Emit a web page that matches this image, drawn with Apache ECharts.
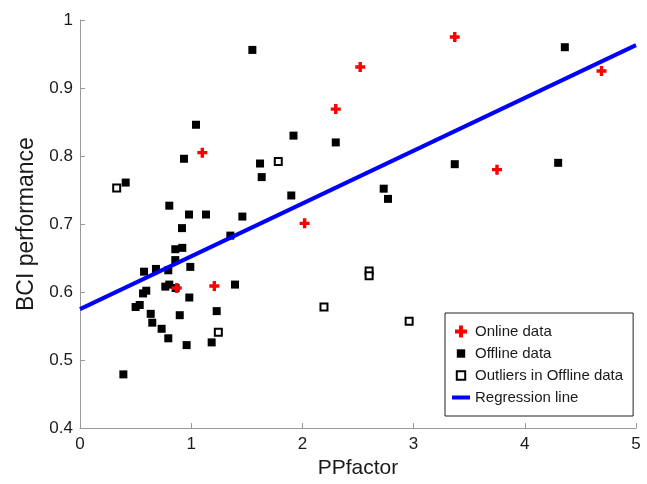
<!DOCTYPE html>
<html>
<head>
<meta charset="utf-8">
<script src="https://cdn.jsdelivr.net/npm/echarts@6/dist/echarts.min.js"></script>
<style>html,body{margin:0;padding:0;background:#fff;}#c{width:647px;height:484px;}</style>
</head>
<body>
<div id="c"></div>
<script>
const onlineData = [[0.87,0.606],[1.10,0.805],[1.208,0.609],[2.02,0.701],[2.30,0.869],[2.52,0.931],[3.37,0.975],[3.75,0.780],[4.69,0.925]];
const offlineData = [[0.39,0.479],[0.411,0.761],[0.50,0.578],[0.537,0.581],[0.567,0.598],[0.596,0.602],[0.576,0.630],[0.636,0.568],[0.65,0.555],[0.683,0.634],[0.734,0.546],[0.767,0.608],[0.794,0.532],[0.794,0.632],[0.803,0.611],[0.803,0.727],[0.86,0.606],[0.857,0.647],[0.857,0.663],[0.897,0.566],[0.92,0.665],[0.917,0.694],[0.935,0.796],[0.959,0.522],[0.983,0.592],[0.992,0.637],[0.98,0.714],[1.043,0.846],[1.133,0.714],[1.184,0.526],[1.229,0.572],[1.352,0.683],[1.394,0.611],[1.46,0.711],[1.55,0.956],[1.619,0.789],[1.634,0.769],[1.90,0.742],[1.92,0.830],[2.30,0.820],[2.731,0.752],[2.77,0.737],[3.37,0.788],[4.30,0.790],[4.36,0.960]];
const outlierData = [[0.33,0.753],[1.244,0.541],[1.783,0.792],[2.194,0.578],[2.60,0.631],[2.60,0.624],[2.96,0.557]];
const regressionData = [[0,0.575],[5,0.963]];
const seriesNames = ['Online data','Offline data','Outliers in Offline data','Regression line'];
const xTitle = 'PPfactor';
const yTitle = 'BCI performance';

const FONT = '"Liberation Sans", Arial, sans-serif';
const plusPath = 'path://M4,0H8V4H12V8H8V12H4V8H0V4H4Z';
const smallPlus = 'path://M3.3,0H6.7V3.3H10V6.7H6.7V10H3.3V6.7H0V3.3H3.3Z';
const legendSquare = 'path://M0,0L0,0M12,12L12,12M1.8,1.8H10.2V10.2H1.8Z';
const legendLine = 'path://M0,0H18V4H0Z';

const chart = echarts.init(document.getElementById('c'));
chart.setOption({
  animation: false,
  backgroundColor: '#fff',
  grid: {left: 80, right: 11, top: 20, bottom: 51, containLabel: false},
  xAxis: {
    type: 'value', min: 0, max: 5, interval: 1,
    name: xTitle, nameLocation: 'middle', nameGap: 26,
    nameTextStyle: {fontFamily: FONT, fontSize: 21, color: '#1a1a1a'},
    axisLine: {show: true, lineStyle: {color: '#999', width: 1}},
    axisTick: {show: true, inside: true, length: 5, lineStyle: {color: '#999'}},
    axisLabel: {fontFamily: FONT, fontSize: 17, color: '#1a1a1a', margin: 8},
    splitLine: {show: false}
  },
  yAxis: {
    type: 'value', min: 0.4, max: 1, interval: 0.1,
    name: yTitle, nameLocation: 'middle', nameGap: 36, nameRotate: 90,
    nameTextStyle: {fontFamily: FONT, fontSize: 23, color: '#1a1a1a'},
    axisLine: {show: true, lineStyle: {color: '#999', width: 1}},
    axisTick: {show: true, inside: true, length: 5, lineStyle: {color: '#999'}},
    axisLabel: {fontFamily: FONT, fontSize: 17, color: '#1a1a1a', margin: 7,
      formatter: v => String(Math.round(v * 10) / 10)},
    splitLine: {show: false}
  },
  legend: {
    orient: 'vertical', left: 445, top: 313,
    borderColor: '#222', borderWidth: 1, backgroundColor: '#fff',
    padding: [10, 10, 10, 7],
    itemWidth: 18, itemHeight: 12, itemGap: 5,
    textStyle: {fontFamily: FONT, fontSize: 15, color: '#1a1a1a', lineHeight: 17},
    data: [
      {name: seriesNames[0], icon: plusPath, itemStyle: {color: '#ff0000', borderWidth: 0}},
      {name: seriesNames[1], icon: legendSquare, itemStyle: {color: '#000', borderWidth: 0}},
      {name: seriesNames[2], icon: legendSquare, itemStyle: {color: '#fff', borderColor: '#000', borderWidth: 2}},
      {name: seriesNames[3], icon: legendLine, itemStyle: {color: '#0000ff', borderWidth: 0}}
    ]
  },
  series: [
    {name: seriesNames[1], type: 'scatter', data: offlineData, symbol: 'rect', symbolSize: 8,
      itemStyle: {color: '#000', opacity: 1}, z: 2},
    {name: seriesNames[2], type: 'scatter', data: outlierData, symbol: 'rect', symbolSize: 7,
      itemStyle: {color: '#fff', borderColor: '#000', borderWidth: 2, opacity: 1}, z: 2},
    {name: seriesNames[0], type: 'scatter', data: onlineData, symbol: smallPlus, symbolSize: 10,
      itemStyle: {color: '#ff0000', opacity: 1}, z: 3},
    {name: seriesNames[3], type: 'line', data: regressionData, symbol: 'none',
      lineStyle: {color: '#0000ff', width: 4}, itemStyle: {color: '#0000ff'}, z: 4}
  ]
});
</script>
</body>
</html>
